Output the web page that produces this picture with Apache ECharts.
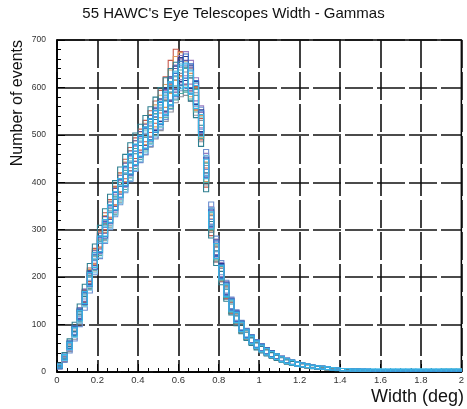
<!DOCTYPE html>
<html>
<head>
<meta charset="utf-8">
<script src="https://cdn.jsdelivr.net/npm/echarts@6/dist/echarts.min.js"></script>
<style>
  html, body { margin: 0; padding: 0; background: #fff; }
  #chart { width: 467px; height: 409px; }
</style>
</head>
<body>
<div id="chart"></div>
<script>
// Histogram binning: 80 bins of 0.025 deg from 0 to 2 deg
const binCount = 80;
const binWidth = 0.025;
const binCenters = Array.from({ length: binCount }, (_, i) => +(binWidth * (i + 0.5)).toFixed(4));

// Axis ticks
const xTicks = ['0', '0.2', '0.4', '0.6', '0.8', '1', '1.2', '1.4', '1.6', '1.8', '2'];
const yTicks = ['0', '100', '200', '300', '400', '500', '600', '700'];

// Counts per bin for each telescope
const telRed = [10, 28, 52, 82, 118, 160, 205, 245, 280, 318, 345, 372, 400, 428, 452, 472, 490, 508, 528, 548, 570, 598, 632, 655, 650, 640, 615, 578, 512, 410, 305, 248, 205, 168, 135, 112, 92, 78, 66, 56, 49, 42, 36, 31, 26, 22, 19, 16, 14, 12, 11, 9, 8, 7, 6, 6, 5, 4, 4, 3, 3, 3, 2, 2, 2, 2, 2, 2, 2, 2, 2, 2, 2, 2, 2, 2, 2, 2, 2, 2];
const telOrange = [13, 31, 57, 87, 121, 160, 202, 242, 278, 312, 342, 370, 398, 422, 446, 466, 484, 502, 520, 540, 560, 582, 612, 640, 648, 630, 605, 575, 518, 422, 315, 252, 208, 170, 138, 114, 94, 79, 67, 57, 49, 42, 36, 31, 27, 23, 20, 17, 15, 13, 11, 10, 8, 7, 7, 6, 5, 4, 4, 3, 3, 3, 3, 3, 3, 2, 2, 2, 2, 2, 2, 2, 2, 2, 2, 2, 2, 2, 2, 2];
const telGrey = [11, 27, 50, 78, 112, 150, 188, 228, 262, 294, 322, 350, 376, 400, 424, 445, 464, 480, 496, 514, 532, 552, 572, 592, 605, 608, 595, 565, 508, 415, 312, 248, 204, 166, 136, 112, 93, 78, 66, 57, 49, 42, 36, 31, 27, 23, 19, 17, 14, 12, 11, 9, 8, 7, 6, 6, 5, 4, 4, 3, 3, 3, 3, 3, 3, 3, 3, 3, 3, 3, 3, 3, 3, 3, 3, 3, 3, 3, 3, 3];
const telLilac = [12, 29, 53, 83, 117, 154, 193, 232, 266, 298, 328, 356, 384, 410, 434, 455, 474, 492, 510, 528, 548, 570, 596, 622, 642, 650, 632, 596, 538, 440, 330, 264, 216, 178, 145, 119, 98, 82, 70, 60, 52, 45, 39, 33, 28, 24, 21, 18, 15, 13, 12, 10, 9, 8, 7, 6, 5, 5, 4, 4, 3, 3, 3, 3, 3, 3, 3, 3, 3, 3, 3, 3, 3, 3, 3, 3, 3, 3, 3, 3];
const telPurple = [11, 29, 54, 86, 124, 162, 200, 240, 276, 310, 340, 368, 395, 420, 445, 466, 485, 500, 518, 535, 552, 572, 595, 615, 635, 632, 618, 585, 525, 430, 322, 256, 210, 173, 141, 116, 96, 80, 68, 58, 50, 43, 37, 32, 27, 23, 20, 17, 15, 13, 11, 10, 9, 8, 7, 6, 5, 5, 4, 4, 3, 3, 3, 3, 3, 3, 3, 3, 3, 3, 3, 3, 3, 3, 3, 3, 3, 3, 3, 3];
const telSteel = [9, 25, 47, 74, 106, 142, 180, 220, 255, 288, 318, 346, 372, 398, 422, 444, 463, 480, 498, 516, 535, 556, 578, 600, 618, 622, 612, 588, 535, 448, 340, 270, 220, 180, 146, 120, 99, 83, 70, 60, 52, 45, 39, 33, 28, 24, 21, 18, 15, 13, 12, 10, 9, 8, 7, 6, 5, 5, 4, 4, 4, 3, 3, 3, 3, 3, 3, 3, 3, 3, 3, 3, 3, 3, 3, 3, 3, 3, 3, 3];
const telNavy = [12, 30, 56, 86, 120, 158, 198, 236, 270, 303, 333, 360, 387, 413, 438, 458, 476, 494, 512, 532, 552, 574, 598, 620, 638, 640, 622, 588, 530, 435, 328, 262, 214, 176, 143, 117, 97, 81, 69, 59, 51, 44, 38, 33, 28, 24, 20, 17, 15, 13, 11, 10, 9, 8, 7, 6, 5, 5, 4, 4, 3, 3, 3, 3, 3, 3, 3, 3, 3, 3, 3, 3, 3, 3, 3, 3, 3, 3, 3, 3];
const telDarkTeal = [15, 35, 62, 95, 132, 172, 214, 254, 292, 326, 356, 384, 412, 438, 462, 482, 500, 518, 536, 556, 576, 596, 615, 628, 630, 618, 596, 560, 498, 400, 300, 240, 198, 162, 132, 108, 90, 75, 64, 54, 47, 40, 35, 30, 25, 21, 18, 16, 14, 12, 10, 9, 8, 7, 6, 5, 5, 4, 4, 3, 3, 3, 3, 3, 2, 2, 2, 2, 2, 2, 2, 2, 2, 2, 2, 2, 2, 2, 2, 2];
const telTeal = [14, 31, 56, 84, 116, 152, 190, 230, 262, 296, 326, 352, 380, 405, 430, 450, 470, 488, 505, 522, 540, 560, 580, 598, 612, 615, 600, 572, 515, 420, 318, 252, 208, 170, 138, 114, 94, 79, 67, 57, 50, 43, 37, 32, 27, 23, 20, 17, 15, 13, 11, 10, 9, 8, 7, 6, 5, 5, 4, 4, 3, 3, 3, 3, 3, 3, 3, 3, 3, 3, 3, 3, 3, 3, 3, 3, 4, 4, 4, 4];
const telSky = [13, 30, 54, 82, 114, 150, 186, 224, 258, 290, 320, 348, 374, 400, 424, 446, 466, 484, 502, 520, 540, 562, 586, 610, 626, 628, 614, 586, 528, 436, 328, 260, 212, 174, 142, 116, 96, 80, 68, 58, 50, 43, 37, 32, 27, 23, 20, 17, 15, 13, 11, 10, 9, 8, 7, 6, 5, 5, 4, 4, 4, 4, 4, 4, 4, 4, 4, 4, 4, 4, 4, 4, 4, 4, 4, 4, 4, 4, 4, 4];
const telBlue = [13, 32, 58, 88, 122, 155, 195, 232, 268, 300, 332, 360, 388, 412, 436, 458, 476, 492, 510, 528, 545, 565, 585, 605, 630, 645, 625, 590, 528, 432, 325, 260, 212, 175, 142, 117, 97, 81, 69, 59, 51, 44, 38, 32, 28, 24, 20, 17, 15, 13, 11, 10, 9, 8, 7, 6, 5, 5, 4, 4, 4, 4, 3, 3, 3, 3, 3, 3, 3, 3, 3, 3, 3, 3, 3, 3, 3, 3, 3, 3];
const telCyan = [12, 31, 55, 85, 119, 157, 196, 236, 270, 304, 334, 361, 388, 414, 439, 459, 477, 494, 511, 529, 547, 567, 588, 608, 622, 625, 610, 580, 520, 428, 320, 255, 210, 172, 140, 115, 95, 80, 68, 58, 50, 43, 37, 32, 27, 23, 20, 17, 15, 13, 11, 10, 9, 8, 7, 6, 5, 5, 4, 4, 4, 4, 4, 4, 4, 4, 4, 4, 4, 4, 4, 4, 4, 4, 4, 4, 4, 4, 4, 4];

const telescopes = [
  { name: 'T-red', color: '#c75a4c', counts: telRed },
  { name: 'T-orange', color: '#dd9a5c', counts: telOrange },
  { name: 'T-grey', color: '#8c909c', counts: telGrey },
  { name: 'T-lilac', color: '#9c7cc0', counts: telLilac },
  { name: 'T-purple', color: '#6a52a2', counts: telPurple },
  { name: 'T-steel', color: '#6d8fd0', counts: telSteel },
  { name: 'T-navy', color: '#2b3c8e', counts: telNavy },
  { name: 'T-darkteal', color: '#2f7f90', counts: telDarkTeal },
  { name: 'T-teal', color: '#4fa7a3', counts: telTeal },
  { name: 'T-sky', color: '#7ec8ea', counts: telSky },
  { name: 'T-blue', color: '#3b6fc6', counts: telBlue },
  { name: 'T-cyan', color: '#39b5e6', counts: telCyan }
];

// Error rectangles (bin width x Poisson error) drawn as open boxes
function errorBox(params, api) {
  const xc = api.value(0);
  const n = api.value(1);
  const err = Math.sqrt(n);
  const p0 = api.coord([xc - binWidth / 2, n + err]);
  const p1 = api.coord([xc + binWidth / 2, n - err]);
  return {
    type: 'rect',
    shape: { x: p0[0], y: p0[1], width: p1[0] - p0[0], height: Math.max(p1[1] - p0[1], 0.5) },
    style: { fill: null, stroke: api.visual('color'), lineWidth: 1.1 }
  };
}

const chart = echarts.init(document.getElementById('chart'), null, { renderer: 'canvas' });
const font = 'Liberation Sans, Arial, Helvetica, sans-serif';

chart.setOption({
  animation: false,
  backgroundColor: '#fff',
  grid: {
    left: 57, right: 3, top: 40, bottom: 37,
    show: true, borderColor: '#000', borderWidth: 1.5, backgroundColor: 'transparent'
  },
  xAxis: {
    type: 'value', min: 0, max: 2, interval: 0.2,
    axisLine: { show: true, lineStyle: { color: '#000', width: 1.5 } },
    axisTick: { show: true, inside: true, length: 8, lineStyle: { color: '#000', width: 1 } },
    minorTick: { show: true, splitNumber: 4, length: 4, lineStyle: { color: '#000', width: 1 } },
    splitLine: { show: true, lineStyle: { color: '#111', width: 1.6, type: [28, 4] } },
    axisLabel: {
      margin: 3, fontSize: 9.5, color: '#333', fontFamily: font,
      formatter: v => xTicks[Math.round(v / 0.2)]
    }
  },
  yAxis: {
    type: 'value', min: 0, max: 700, interval: 100,
    axisLine: { show: true, lineStyle: { color: '#000', width: 1.5 } },
    axisTick: { show: true, inside: true, length: 8, lineStyle: { color: '#000', width: 1 } },
    minorTick: { show: true, splitNumber: 5, length: 4, lineStyle: { color: '#000', width: 1 } },
    splitLine: { show: true, lineStyle: { color: '#111', width: 1.6, type: [28, 4] } },
    axisLabel: {
      margin: 11, fontSize: 8.5, color: '#333', fontFamily: font,
      formatter: v => yTicks[Math.round(v / 100)]
    }
  },
  graphic: [
    {
      type: 'text', left: 'center', top: 6,
      style: { text: "55 HAWC's Eye Telescopes Width - Gammas", font: '15px ' + font, fill: '#111' }
    },
    {
      type: 'text', x: 18, y: 40, rotation: Math.PI / 2,
      style: { text: 'Number of events', font: '16px ' + font, fill: '#111', align: 'right', verticalAlign: 'middle' }
    },
    {
      type: 'text', x: 464, y: 397,
      style: { text: 'Width (deg)', font: '18px ' + font, fill: '#111', align: 'right', verticalAlign: 'middle' }
    }
  ],
  series: telescopes.map(t => ({
    type: 'custom',
    name: t.name,
    color: t.color,
    renderItem: errorBox,
    clip: true,
    data: t.counts.map((c, i) => [binCenters[i], c])
  }))
});
</script>
</body>
</html>
